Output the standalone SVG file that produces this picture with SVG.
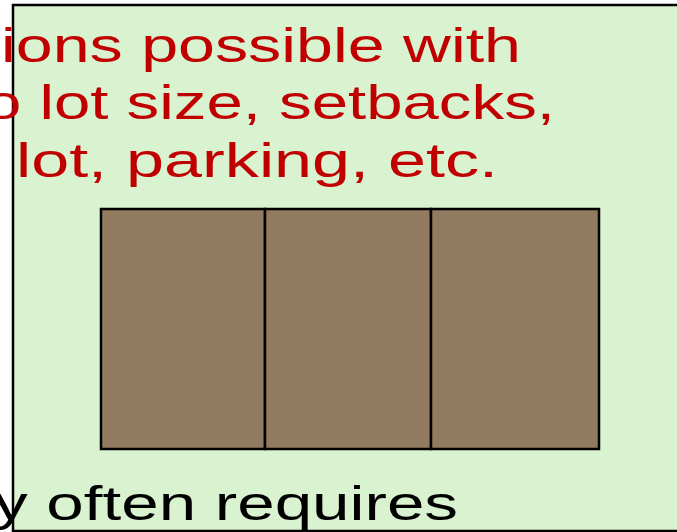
<svg xmlns="http://www.w3.org/2000/svg" width="677" height="532" viewBox="0 0 677 532">
<style>
.red{fill:#C00000;font-family:"Comic Sans MS","Liberation Sans",sans-serif;font-size:48px}
.blk{fill:#000;font-family:"Comic Sans MS","Liberation Sans",sans-serif;font-size:48px}
.lot{fill:#937B62;stroke:#000;stroke-width:2.5}
</style>
<rect width="677" height="532" fill="#fff"/>
<g id="area">
<rect x="13" y="5" width="700" height="526" fill="#D9F2D0" stroke="#000" stroke-width="2.5"/>
</g>
<g id="lots">
<rect class="lot" x="101" y="209" width="164" height="240"/>
<rect class="lot" x="265" y="209" width="166" height="240"/>
<rect class="lot" x="431" y="209" width="168" height="240"/>
</g>
<g id="labels">
<text class="red" x="1" y="62" textLength="520" lengthAdjust="spacingAndGlyphs">ions possible with</text>
<text class="red" x="-15" y="119" textLength="570" lengthAdjust="spacingAndGlyphs">o lot size, setbacks,</text>
<text class="red" x="16" y="177" textLength="482" lengthAdjust="spacingAndGlyphs">lot, parking, etc.</text>
<text class="blk" x="-6" y="520" textLength="464" lengthAdjust="spacingAndGlyphs">y often requires</text>
</g>
</svg>
